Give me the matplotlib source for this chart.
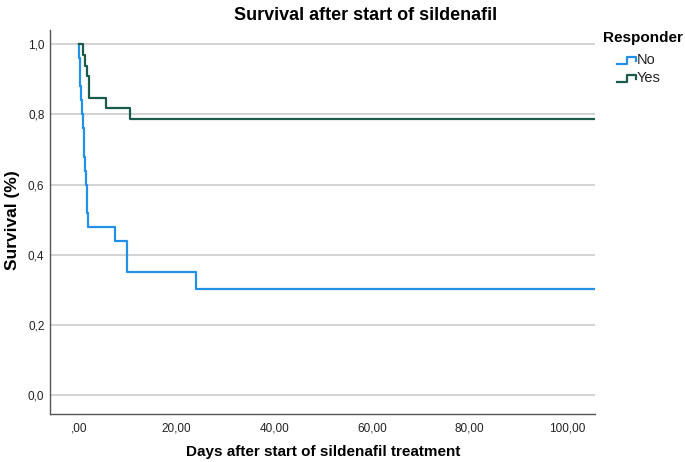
import matplotlib
matplotlib.use("Agg")
import matplotlib.pyplot as plt
from matplotlib.lines import Line2D

plt.rcParams['font.family'] = ['Liberation Sans', 'DejaVu Sans']

# Kaplan-Meier steps (days, survival)
no_days = [0.05, 0.15, 0.3, 0.5, 0.7, 0.85, 1.0, 1.15, 1.25, 1.4, 1.6, 1.75, 1.85,
           7.5, 9.9, 23.9]
no_surv = [0.96, 0.92, 0.88, 0.84, 0.80, 0.76, 0.72, 0.68, 0.64, 0.60, 0.56, 0.52, 0.48,
           0.44, 0.352, 0.302]
yes_days = [0.9, 1.2, 1.6, 2.1, 5.6, 10.5]
yes_surv = [0.970, 0.939, 0.909, 0.848, 0.818, 0.788]
follow_up_end = 110

groups = ['No', 'Yes']
colors = {'No': '#2190e6', 'Yes': '#1b5a4d'}

x_ticks = [0, 20, 40, 60, 80, 100]
x_ticklabels = [',00', '20,00', '40,00', '60,00', '80,00', '100,00']
y_ticks = [0.0, 0.2, 0.4, 0.6, 0.8, 1.0]
y_ticklabels = ['0,0', '0,2', '0,4', '0,6', '0,8', '1,0']

W, H = 685, 462
fig = plt.figure(figsize=(W / 100, H / 100), dpi=100)
ax = fig.add_axes([50 / W, 1 - 414 / H, 545 / W, 383.7 / H])


def km_curve(days, surv):
    xs = [0] + days + [follow_up_end]
    ys = [1.0] + surv + [surv[-1]]
    return xs, ys


for g, (d, s) in zip(groups, [(no_days, no_surv), (yes_days, yes_surv)]):
    xs, ys = km_curve(d, s)
    ax.step(xs, ys, where='post', color=colors[g], lw=1.6, zorder=3)

ax.set_xlim(-5.9, 105.7)
ax.set_ylim(-0.0543, 1.04)
ax.set_xticks(x_ticks)
ax.set_xticklabels(x_ticklabels)
ax.set_yticks(y_ticks)
ax.set_yticklabels(y_ticklabels)
ax.tick_params(length=0, labelsize=8.5, colors='#222222')
ax.tick_params(axis='x', pad=6)
ax.tick_params(axis='y', pad=4)
ax.yaxis.grid(True, color='#c8c8c8', lw=1.1)
ax.set_axisbelow(True)
for side in ['top', 'right']:
    ax.spines[side].set_visible(False)
for side in ['left', 'bottom']:
    ax.spines[side].set_color('#555555')
    ax.spines[side].set_linewidth(1.0)

fig.text(366 / W, 1 - 20 / H, 'Survival after start of sildenafil', ha='center',
         va='baseline', fontsize=13, fontweight='bold')
fig.text(323 / W, 1 - 456 / H, 'Days after start of sildenafil treatment', ha='center',
         va='baseline', fontsize=11, fontweight='bold')
fig.text(13 / W, 1 - 220 / H, 'Survival (%)', ha='center', va='center', rotation=90,
         fontsize=12.5, fontweight='bold')

# legend
fig.text(603 / W, 1 - 42 / H, 'Responder', ha='left', va='baseline', fontsize=11,
         fontweight='bold')
for g, yc in zip(groups, [60.5, 78]):
    px = [617, 627, 627, 636, 636]
    py = [yc + 3.5, yc + 3.5, yc - 3.5, yc - 3.5, yc + 0.5]
    fig.add_artist(Line2D([p / W for p in px], [1 - p / H for p in py],
                          transform=fig.transFigure, color=colors[g], lw=1.6))
    fig.text(637 / W, 1 - yc / H, g, ha='left', va='center', fontsize=10.5,
             color='#222222')

fig.savefig('out.png', dpi=100)
